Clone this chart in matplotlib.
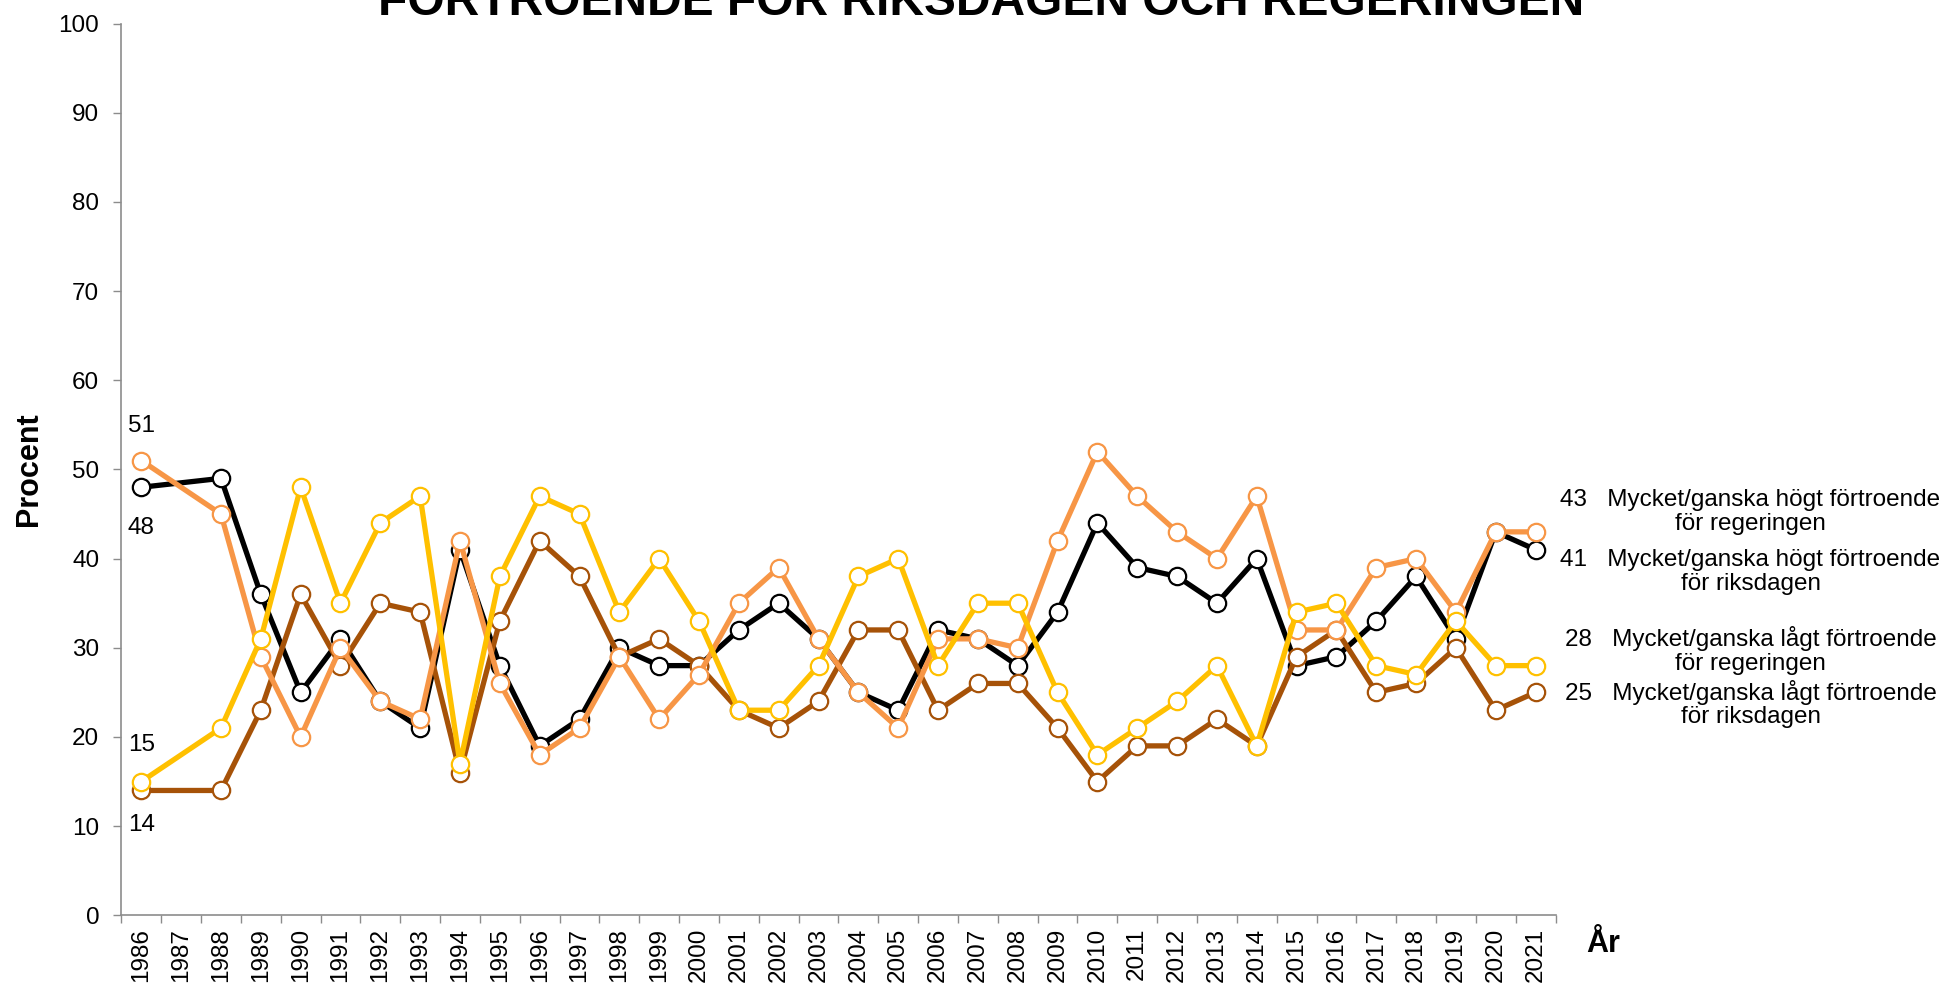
import numpy as np
import matplotlib
matplotlib.use("Agg")
import matplotlib.pyplot as plt

plt.rcParams['font.family'] = ['Liberation Sans', 'DejaVu Sans']

# data (1987 saknas)
years = [1986, 1988, 1989, 1990, 1991, 1992, 1993, 1994, 1995, 1996, 1997, 1998,
         1999, 2000, 2001, 2002, 2003, 2004, 2005, 2006, 2007, 2008, 2009, 2010,
         2011, 2012, 2013, 2014, 2015, 2016, 2017, 2018, 2019, 2020, 2021]
all_years = list(range(1986, 2022))

hogt_riksdagen = [48, 49, 36, 25, 31, 24, 21, 41, 28, 19, 22, 30, 28, 28, 32, 35, 31, 25,
                  23, 32, 31, 28, 34, 44, 39, 38, 35, 40, 28, 29, 33, 38, 31, 43, 41]
hogt_regeringen = [51, 45, 29, 20, 30, 24, 22, 42, 26, 18, 21, 29, 22, 27, 35, 39, 31, 25,
                   21, 31, 31, 30, 42, 52, 47, 43, 40, 47, 32, 32, 39, 40, 34, 43, 43]
lagt_regeringen = [15, 21, 31, 48, 35, 44, 47, 17, 38, 47, 45, 34, 40, 33, 23, 23, 28, 38,
                   40, 28, 35, 35, 25, 18, 21, 24, 28, 19, 34, 35, 28, 27, 33, 28, 28]
lagt_riksdagen = [14, 14, 23, 36, 28, 35, 34, 16, 33, 42, 38, 29, 31, 28, 23, 21, 24, 32,
                  32, 23, 26, 26, 21, 15, 19, 19, 22, 19, 29, 32, 25, 26, 30, 23, 25]

labels = ["Mycket/ganska högt förtroende\nför regeringen",
          "Mycket/ganska högt förtroende\nför riksdagen",
          "Mycket/ganska lågt förtroende\nför regeringen",
          "Mycket/ganska lågt förtroende\nför riksdagen"]

fs = 17.5

fig = plt.figure(figsize=(19.42, 9.89), dpi=100)
ax = fig.add_axes([0.0625, 0.0745, 0.7385, 0.9017])

# ritordning: svart, brun, orange, gul
series = [(hogt_riksdagen, '#000000'),
          (lagt_riksdagen, '#A65208'),
          (hogt_regeringen, '#F79646'),
          (lagt_regeringen, '#FFC000')]
for vals, col in series:
    ax.plot(years, vals, color=col, lw=3.8, marker='o', markersize=12.5,
            markerfacecolor='white', markeredgecolor=col, markeredgewidth=1.6)

ax.set_xlim(1985.5, 2021.5)
ax.set_ylim(0, 100)
ax.set_yticks(range(0, 101, 10))
ax.set_xticks(all_years)
ax.set_xticklabels([str(y) for y in all_years], rotation=90)
ax.set_xticks(np.arange(1985.5, 2022, 1), minor=True)
ax.tick_params(axis='x', which='major', length=0, pad=9, labelsize=fs)
ax.tick_params(axis='x', which='minor', length=5.5, width=1, color='#8C8C8C', direction='out')
ax.tick_params(axis='y', length=6, width=1, color='#8C8C8C', labelsize=fs, pad=10)

for s in ['top', 'right']:
    ax.spines[s].set_visible(False)
for s in ['left', 'bottom']:
    ax.spines[s].set_color('#8C8C8C')
    ax.spines[s].set_linewidth(1.2)

ax.set_ylabel('Procent', fontsize=22, fontweight='bold')
ax.yaxis.set_label_coords(-0.054, 0.5)
ax.text(2022.7, -3.2, 'År', fontsize=22, fontweight='bold', ha='center', va='center',
        clip_on=False)

# startvärden 1986
ax.text(years[0], hogt_regeringen[0] + 3.9, str(hogt_regeringen[0]), ha='center', va='center', fontsize=fs)
ax.text(years[0], hogt_riksdagen[0] - 4.6, str(hogt_riksdagen[0]), ha='center', va='center', fontsize=fs)
ax.text(years[0], lagt_regeringen[0] + 4.1, str(lagt_regeringen[0]), ha='center', va='center', fontsize=fs)
ax.text(years[0], lagt_riksdagen[0] - 3.9, str(lagt_riksdagen[0]), ha='center', va='center', fontsize=fs)

# slutvärden 2021 med etiketter
end_vals = [hogt_regeringen[-1], hogt_riksdagen[-1], lagt_regeringen[-1], lagt_riksdagen[-1]]
ypos = [0.4826, 0.4219, 0.3425, 0.2882]
for v, lab, yp in zip(end_vals, labels, ypos):
    fig.text(0.9014, yp, f"{v}   {lab}", ha='center', va='center', multialignment='center',
             fontsize=fs, linespacing=1.1)

fig.text(0.5054, 1 - 15 / 989, 'FÖRTROENDE FÖR RIKSDAGEN OCH REGERINGEN', ha='center',
         va='baseline', fontsize=34.5, fontweight='bold')

fig.savefig('out.png', dpi=100)
